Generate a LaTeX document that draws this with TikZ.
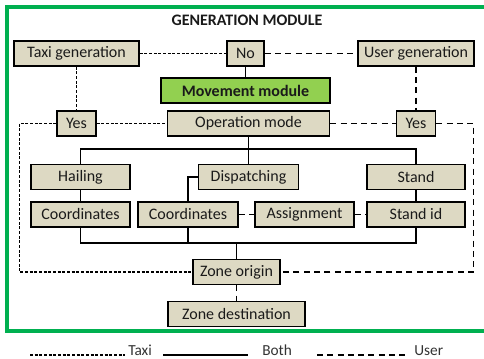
\documentclass[tikz,border=0pt]{standalone}
\usepackage{fontspec}
\setmainfont{Carlito}
\definecolor{boxfill}{HTML}{DDD9C3}
\definecolor{movefill}{HTML}{92D050}
\definecolor{framegreen}{HTML}{00B050}
\definecolor{txt}{HTML}{1A1A1A}
\tikzset{
  blk/.style={draw=black, line width=1.2pt, fill=boxfill, minimum height=18.75pt, inner sep=1pt,
    font=\fontsize{12}{14}\selectfont, text=txt},
  taxi/.style={line width=0.9pt, dash pattern=on 2.2pt off 1.3pt},
  user/.style={line width=0.9pt, dash pattern=on 4.5pt off 3.2pt},
  both/.style={line width=0.9pt},
  lgd/.style={font=\fontsize{11.5}{13}\selectfont, text=black!80, anchor=base west, inner sep=0pt}
}
\begin{document}
\begin{tikzpicture}[x=0.75pt, y=-0.75pt]
        \useasboundingbox (0,0) rectangle (484,359);
        \draw[framegreen, line width=2.3pt] (484,7) -- (7,7) -- (7,331) -- (484,331);
        \node[font=\bfseries\fontsize{12}{14}\selectfont, text=txt] (title) at (247,20) {GENERATION MODULE};
        % generation row
        \node[blk, minimum width=93.75pt] (tgen) at (76.5,53.5) {Taxi generation};
        \node[blk, minimum width=27.75pt] (no) at (245.5,53.5) {No};
        \node[blk, minimum width=87pt] (ugen) at (416,53.5) {User generation};
        \node[blk, fill=movefill, minimum width=126.75pt, font=\bfseries\fontsize{12}{14}\selectfont] (move) at (245.5,90.5) {Movement module};
        % operation mode row
        \node[blk, minimum width=29.25pt] (yesL) at (76.5,123.5) {Yes};
        \node[blk, minimum width=121.5pt] (opmode) at (248.5,123.5) {Operation mode};
        \node[blk, minimum width=29.25pt] (yesR) at (416,123.5) {Yes};
        % modes
        \node[blk, minimum width=74.25pt] (hail) at (80.5,177) {Hailing};
        \node[blk, minimum width=75pt] (disp) at (248.5,177) {Dispatching};
        \node[blk, minimum width=73.5pt] (stand) at (416,177) {Stand};
        \node[blk, minimum width=74.25pt] (coordL) at (80.5,214.5) {Coordinates};
        \node[blk, minimum width=75pt] (coordM) at (188,214.5) {Coordinates};
        \node[blk, minimum width=74.25pt] (assign) at (304.5,214.5) {Assignment};
        \node[blk, minimum width=73.5pt] (standid) at (416,214.5) {Stand id};
        % zones
        \node[blk, minimum width=65.25pt] (zorig) at (236.5,272) {Zone origin};
        \node[blk, minimum width=102.75pt] (zdest) at (236.5,314) {Zone destination};
        \coordinate (br) at (248.5,149);
        \coordinate (jn) at (236.5,243);
        \draw[taxi] (tgen) -- (no);
        \draw[user] (no) -- (ugen);
        \draw[both] (no) -- (move);
        \draw[taxi] (tgen) -- (yesL);
        \draw[user] (ugen) -- (yesR);
        \draw[taxi] (yesL) -- (opmode);
        \draw[user] (opmode) -- (yesR);
        \draw[taxi] (yesL.west) -- ++(-37,0) |- (zorig.west);
        \draw[user] (yesR.east) -- ++(37,0) |- (zorig.east);
        \draw[both] (opmode) -- (disp);
        \draw[both] (hail.north) |- (br) -| (stand.north);
        \draw[both] (hail) -- (coordL);
        \draw[both] (stand) -- (standid);
        \draw[both] (disp.west) -| (coordM.north);
        \draw[user] (coordM) -- (assign);
        \draw[user] (assign) -- (standid);
        \draw[both] (coordL.south) |- (jn) -| (standid.south);
        \draw[both] (coordM.south) -- (coordM.south |- jn);
        \draw[both] (jn) -- (zorig.north);
        \draw[user] (zorig) -- (zdest);
        % legend
        \node[lgd] (lgtaxi) at (128,355) {Taxi};
        \node[lgd] (lgboth) at (262,355) {Both};
        \node[lgd] (lguser) at (414,355) {User};
        \coordinate (ltaxi) at (30,355);
        \coordinate (lboth) at (163,355);
        \coordinate (luser) at (317,355);
        \draw[taxi] (ltaxi) -- ++(95,0);
        \draw[both] (lboth) -- ++(85,0);
        \draw[user] (luser) -- ++(88,0);
\end{tikzpicture}
\end{document}
